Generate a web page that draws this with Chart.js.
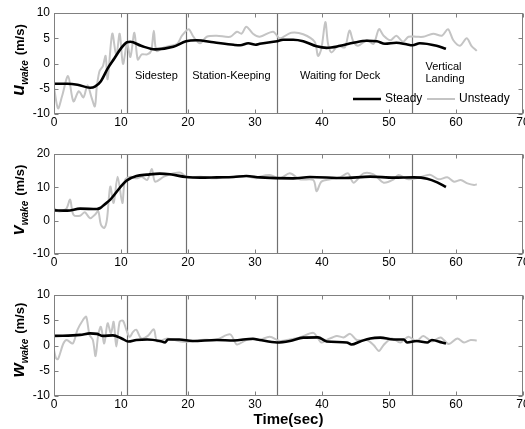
<!DOCTYPE html>
<html>
<head>
<meta charset="utf-8">
<script src="https://cdn.jsdelivr.net/npm/chart.js@4.4.1/dist/chart.umd.min.js"></script>
<style>
  html, body { margin: 0; padding: 0; background: #fff; }
  body { width: 525px; height: 429px; overflow: hidden; position: relative; }
  canvas { position: absolute; left: 0; }
  .ylab {
    position: absolute; left: 19px;
    transform: translate(-50%, -50%) rotate(-90deg);
    font: bold 13px "Liberation Sans", Arial, sans-serif;
    white-space: nowrap; color: #000;
  }
  .ylab i { font-size: 18px; }
  .ylab sub { font-size: 10px; font-style: italic; }
  .ylab span { margin-left: 5px; }
</style>
</head>
<body>
<canvas id="uChart" width="545" height="140" style="top:0"></canvas>
<canvas id="vChart" width="545" height="140" style="top:140px"></canvas>
<canvas id="wChart" width="545" height="149" style="top:280px"></canvas>
<div class="ylab" style="top:60px"><i>u</i><sub>wake</sub><span>(m/s)</span></div>
<div class="ylab" style="top:200px"><i>v</i><sub>wake</sub><span>(m/s)</span></div>
<div class="ylab" style="top:340px"><i>w</i><sub>wake</sub><span>(m/s)</span></div>
<script>
// phase boundaries (sec) and names
const phaseTimes = [10.9, 19.65, 33.3, 53.5];
const phaseNames = ['Sidestep', 'Station-Keeping', 'Waiting for Deck', 'Vertical', 'Landing'];

// u_wake
const uSteadyT = [0, 2, 3.5, 5.4, 6.1, 7, 8, 9, 10, 10.9, 11.4, 13, 15.1, 17.8, 19.7, 21.3, 23.8, 26.8, 27.8, 29, 30.1, 30.7, 33.3, 34.2, 35.7, 37.2, 39.2, 40.7, 42.7, 44.7, 46.7, 48.2, 49.4, 51.1, 52.6, 53.5, 54.6, 57.1, 58.5];
const uSteadyV = [-4.0, -4.0, -4.2, -4.8, -4.6, -3.5, -1.0, 1.0, 3.0, 4.2, 4.3, 3.5, 2.8, 3.3, 4.4, 4.6, 4.2, 3.7, 3.6, 4.0, 3.7, 3.9, 4.4, 4.7, 4.7, 4.4, 3.4, 3.1, 3.5, 4.1, 4.5, 4.4, 3.9, 4.1, 3.8, 3.6, 4.0, 3.5, 2.9];
const uUnsteadyT = [0, 0.6, 1.2, 2.1, 2.9, 3.7, 4.4, 5.0, 5.6, 6.1, 6.4, 6.8, 7.3, 7.7, 8.0, 8.7, 9.3, 9.8, 10.3, 10.9, 11.4, 12.0, 12.5, 13.1, 13.9, 14.5, 14.9, 15.3, 16.4, 17.4, 18.4, 19.1, 20.1, 20.8, 21.8, 22.8, 24.3, 26.3, 27.3, 28.0, 28.7, 29.7, 30.7, 32.7, 33.7, 35.4, 37.2, 38.9, 39.4, 39.9, 40.5, 40.9, 41.4, 42.4, 43.4, 44.1, 44.7, 45.4, 46.7, 47.7, 48.5, 49.2, 50.2, 51.1, 52.1, 52.9, 54.1, 55.1, 56.6, 57.9, 58.8, 59.6, 60.6, 61.6, 62.3, 63.1];
const uUnsteadyV = [-4.7, -8.9, -6.5, -2.5, -7.5, -5.5, -6.7, -4.3, -6.7, -8.5, -4.5, -1.5, -0.5, 1.5, -3.1, 5.9, 1.5, 5.9, -0.1, 3.9, 1.3, 6.1, 0.8, 1.8, 1.8, 2.5, 6.5, 2.5, 3.2, 3.5, 3.9, 5.5, 6.8, 5.3, 4.0, 5.3, 5.5, 5.3, 6.3, 5.9, 7.3, 5.9, 5.3, 6.3, 5.0, 6.1, 5.8, 4.3, 1.5, 2.9, 8.2, 3.9, 2.2, 3.5, 3.2, 6.5, 4.3, 3.5, 4.6, 3.9, 6.8, 5.5, 4.6, 5.5, 4.3, 5.3, 5.3, 5.3, 5.9, 5.5, 6.8, 4.6, 3.5, 5.0, 3.5, 2.5];

// v_wake
const vSteadyT = [0, 2, 3.9, 6.4, 6.9, 7.5, 8.4, 9.8, 10.8, 12.3, 13.9, 15.8, 17.3, 19.7, 21.8, 24.3, 26.8, 28.7, 30.7, 35.7, 38.2, 43.2, 47.2, 50.7, 53.7, 55.7, 57.2, 58.5];
const vSteadyV = [3.1, 3.0, 3.6, 3.5, 3.8, 4.8, 6.3, 9.8, 12.0, 13.4, 13.8, 14.1, 13.9, 13.1, 12.9, 13.0, 13.1, 13.4, 13.0, 12.7, 13.1, 12.8, 13.2, 12.9, 13.0, 12.6, 11.5, 10.1];
const vUnsteadyT = [0, 0.6, 1.8, 2.4, 2.9, 3.9, 4.6, 5.4, 6.1, 6.6, 7.0, 7.5, 7.9, 8.4, 8.9, 9.5, 10.2, 10.6, 11.4, 12.3, 13.1, 13.9, 14.6, 15.1, 16.4, 17.9, 18.9, 19.9, 21.9, 23.9, 26.8, 28.7, 30.2, 30.7, 32.2, 33.7, 35.2, 36.7, 38.7, 39.2, 39.9, 41.2, 42.7, 43.9, 44.7, 46.2, 47.7, 49.2, 50.7, 51.4, 52.9, 54.6, 56.1, 57.4, 58.7, 59.7, 60.7, 61.7, 62.7, 63.1];
const vUnsteadyV = [3.8, 2.8, 3.5, 6.3, 1.8, 1.5, 2.5, 0.7, 1.8, 2.8, -1.2, -2.2, 0.3, 10.2, 5.3, 13.2, 5.3, 12.2, 13.2, 12.7, 13.2, 12.2, 15.5, 11.7, 13.2, 14.2, 14.4, 13.0, 13.2, 12.7, 13.2, 13.4, 12.7, 13.2, 13.7, 12.7, 14.2, 12.4, 12.2, 8.8, 11.7, 12.4, 13.0, 14.2, 11.4, 14.2, 13.9, 11.4, 12.4, 13.7, 12.4, 13.0, 13.8, 12.4, 13.0, 11.7, 12.2, 11.2, 10.7, 10.9];

// w_wake
const wSteadyT = [0, 3.9, 5.4, 6.4, 7.3, 8.8, 10.1, 11.1, 12.3, 13.9, 15.8, 16.6, 17.0, 18.7, 20.7, 24.3, 26.8, 29.7, 30.7, 33.3, 35.2, 37.2, 39.4, 40.7, 43.7, 44.4, 45.7, 47.2, 48.7, 50.7, 52.2, 52.7, 54.1, 55.7, 56.4, 57.9, 58.5];
const wSteadyV = [1.9, 2.1, 2.4, 2.3, 1.9, 2.0, 1.4, 0.8, 1.1, 1.2, 0.9, 0.6, 1.2, 1.2, 0.9, 1.1, 1.0, 1.35, 1.1, 0.6, 0.9, 1.55, 1.6, 0.8, 0.6, 0.2, 0.8, 1.4, 1.55, 1.2, 1.2, 0.6, 0.9, 0.6, 1.1, 0.6, 0.4];
const wUnsteadyT = [0, 0.3, 0.6, 1.4, 1.9, 2.8, 3.5, 4.3, 4.8, 5.3, 5.8, 6.2, 6.6, 7.0, 7.5, 8.0, 8.5, 8.9, 9.3, 9.8, 10.3, 10.8, 11.3, 11.8, 12.3, 13.0, 14.0, 14.9, 15.4, 16.9, 18.9, 20.4, 21.9, 24.3, 26.3, 27.3, 28.7, 30.2, 30.7, 32.2, 33.7, 35.2, 36.7, 38.7, 39.4, 39.9, 40.7, 42.2, 43.2, 44.2, 45.2, 46.7, 47.7, 48.5, 49.2, 50.4, 51.7, 52.9, 54.1, 55.1, 56.4, 57.7, 58.9, 60.2, 61.2, 62.2, 63.1];
const wUnsteadyV = [-0.9, -2.5, -2.7, 0.4, 1.1, 0.4, 3.1, 5.0, 5.7, 2.1, 1.1, -2.1, 2.1, 3.7, 0.4, 4.4, 2.4, 4.7, -0.2, 4.7, 4.9, 3.1, 1.7, 2.7, 3.1, 1.4, 1.9, 3.2, 0.8, 1.4, 0.8, 0.8, 1.1, 1.2, 2.2, 0.2, 1.1, 1.2, 1.1, 1.75, 0.9, 1.2, 1.6, 2.5, 1.4, 0.6, 1.1, 1.9, 1.6, 2.3, 1.1, 1.1, 0.1, -1.1, 0.1, 1.4, 0.6, 1.75, 0.8, 1.9, 0.8, 1.6, 0.3, 1.4, 0.6, 1.1, 1.0];

const FONT = '"Liberation Sans", Arial, sans-serif';
const frameColor = '#808080';

function toPoints(ts, vs) {
  return ts.map((t, i) => ({ x: t, y: vs[i] }));
}

// MATLAB-like box with inward ticks, plus the phase boundary lines
const boxPlugin = {
  id: 'box',
  beforeDatasetsDraw(chart) {
    const { ctx, chartArea: a, scales: { x } } = chart;
    ctx.save();
    ctx.strokeStyle = '#707070';
    ctx.lineWidth = 1.2;
    phaseTimes.forEach(t => {
      const px = Math.round(x.getPixelForValue(t)) + 0.5;
      ctx.beginPath();
      ctx.moveTo(px, a.top);
      ctx.lineTo(px, a.bottom);
      ctx.stroke();
    });
    ctx.restore();
  },
  afterDatasetsDraw(chart) {
    const { ctx, chartArea: a, scales: { x, y } } = chart;
    ctx.save();
    ctx.strokeStyle = frameColor;
    ctx.lineWidth = 1;
    const L = Math.round(a.left) + 0.5, R = Math.round(a.right) - 0.5;
    const T = Math.round(a.top) + 0.5, B = Math.round(a.bottom) - 0.5;
    ctx.strokeRect(L, T, R - L, B - T);
    ctx.beginPath();
    x.ticks.forEach(tk => {
      const px = Math.round(x.getPixelForValue(tk.value)) + 0.5;
      ctx.moveTo(px, B); ctx.lineTo(px, B - 4);
      ctx.moveTo(px, T); ctx.lineTo(px, T + 4);
    });
    y.ticks.forEach(tk => {
      const py = Math.round(y.getPixelForValue(tk.value)) + 0.5;
      ctx.moveTo(L, py); ctx.lineTo(L + 4, py);
      ctx.moveTo(R, py); ctx.lineTo(R - 4, py);
    });
    ctx.stroke();
    ctx.restore();
  }
};

// phase names and legend, top panel only
const notesPlugin = {
  id: 'notes',
  afterDraw(chart) {
    const { ctx, chartArea: a, scales: { x } } = chart;
    ctx.save();
    ctx.fillStyle = '#000';
    ctx.font = '11px ' + FONT;
    ctx.textBaseline = 'middle';
    ctx.textAlign = 'center';
    const mid = (p, q) => x.getPixelForValue((p + q) / 2);
    ctx.fillText(phaseNames[0], mid(phaseTimes[0], phaseTimes[1]), a.top + 63);
    ctx.fillText(phaseNames[1], mid(phaseTimes[1], phaseTimes[2]), a.top + 63);
    ctx.fillText(phaseNames[2], x.getPixelForValue(42.7), a.top + 63);
    ctx.textAlign = 'left';
    const vx = x.getPixelForValue(phaseTimes[3]) + 13;
    ctx.fillText(phaseNames[3], vx, a.top + 54);
    ctx.fillText(phaseNames[4], vx, a.top + 66);

    // legend
    ctx.font = '12px ' + FONT;
    ctx.lineWidth = 2.5;
    ctx.strokeStyle = '#000';
    ctx.beginPath(); ctx.moveTo(353, 99); ctx.lineTo(381, 99); ctx.stroke();
    ctx.fillText('Steady', 385, 99);
    ctx.lineWidth = 2;
    ctx.strokeStyle = '#c4c4c4';
    ctx.beginPath(); ctx.moveTo(427, 99); ctx.lineTo(455, 99); ctx.stroke();
    ctx.fillText('Unsteady', 459, 99);
    ctx.restore();
  }
};

function makePanel(id, steady, unsteady, yMin, yMax, yStep, padTop, xHeight, withTitle, extra) {
  new Chart(document.getElementById(id), {
    type: 'line',
    data: {
      datasets: [
        { label: 'Steady', data: steady, borderColor: '#000', borderWidth: 2.6,
          tension: 0.4, cubicInterpolationMode: 'monotone' },
        { label: 'Unsteady', data: unsteady, borderColor: '#c4c4c4', borderWidth: 2,
          tension: 0.3 }
      ]
    },
    options: {
      responsive: false,
      animation: false,
      parsing: false,
      elements: { point: { radius: 0 } },
      layout: { padding: { top: padTop, right: 22, left: 0, bottom: 0 } },
      plugins: { legend: { display: false }, tooltip: { enabled: false } },
      scales: {
        x: {
          type: 'linear', min: 0, max: 70,
          ticks: { stepSize: 10, color: '#000', padding: 1, maxRotation: 0, autoSkip: false,
                   font: { family: FONT, size: 12 } },
          grid: { display: false, drawTicks: false },
          border: { display: false },
          title: { display: withTitle, text: 'Time(sec)', color: '#000', padding: 0,
                   font: { family: FONT, size: 15, weight: 'bold' } },
          afterFit(s) { s.height = xHeight; }
        },
        y: {
          min: yMin, max: yMax,
          ticks: { stepSize: yStep, color: '#000', padding: 4,
                   font: { family: FONT, size: 12 } },
          grid: { display: false, drawTicks: false },
          border: { display: false },
          afterFit(s) { s.width = 54; }
        }
      }
    },
    plugins: extra ? [boxPlugin, extra] : [boxPlugin]
  });
}

makePanel('uChart', toPoints(uSteadyT, uSteadyV), toPoints(uUnsteadyT, uUnsteadyV), -10, 10, 5, 13, 26, false, notesPlugin);
makePanel('vChart', toPoints(vSteadyT, vSteadyV), toPoints(vUnsteadyT, vUnsteadyV), -10, 20, 10, 14, 26, false, null);
makePanel('wChart', toPoints(wSteadyT, wSteadyV), toPoints(wUnsteadyT, wUnsteadyV), -10, 10, 5, 15, 33, true, null);
</script>
</body>
</html>
